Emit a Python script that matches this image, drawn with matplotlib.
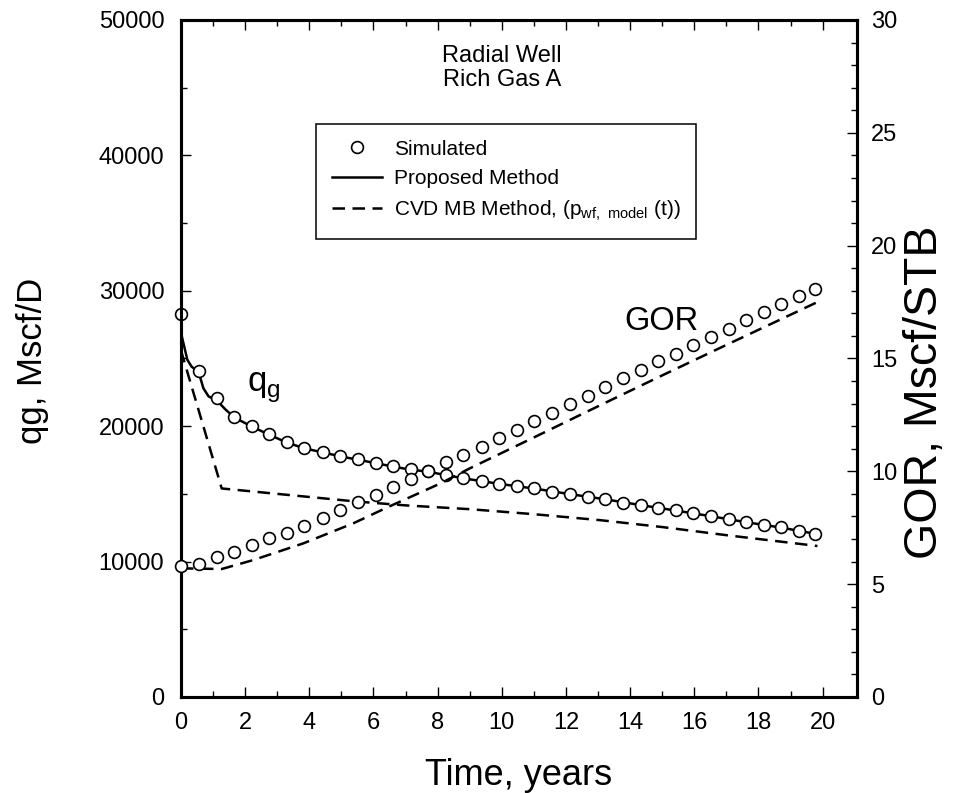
import numpy as np
import matplotlib.pyplot as plt

plt.rcParams['font.family'] = ['Liberation Sans', 'DejaVu Sans']

# Simulated (circles), time in years
t_sim = [0.0, 0.55, 1.12, 1.66, 2.2, 2.74, 3.29, 3.85, 4.43, 4.97, 5.52, 6.07, 6.62,
         7.16, 7.71, 8.26, 8.8, 9.37, 9.92, 10.47, 11.02, 11.57, 12.13, 12.68, 13.22,
         13.78, 14.33, 14.87, 15.42, 15.97, 16.52, 17.07, 17.61, 18.16, 18.71, 19.26, 19.77]
q_sim = [28310, 24100, 22060, 20680, 20010, 19400, 18830, 18390, 18090, 17800, 17550,
         17300, 17040, 16810, 16670, 16400, 16170, 15950, 15750, 15580, 15410, 15160,
         14990, 14790, 14600, 14350, 14180, 13960, 13790, 13570, 13370, 13170, 12920,
         12700, 12530, 12280, 12060]
gor_sim = [5.82, 5.91, 6.19, 6.41, 6.72, 7.03, 7.28, 7.59, 7.94, 8.29, 8.63, 8.95, 9.32,
           9.66, 10.0, 10.40, 10.73, 11.09, 11.46, 11.83, 12.21, 12.60, 12.98, 13.35,
           13.75, 14.13, 14.49, 14.87, 15.21, 15.60, 15.96, 16.32, 16.70, 17.07, 17.43,
           17.77, 18.08]

# Proposed method (solid), gas rate only
t_prop = [0.0, 0.1, 0.2, 0.33, 0.55, 0.7, 0.86, 1.12, 1.38, 1.66, 2.2, 2.74, 3.29, 3.85,
          4.43, 4.97, 5.52, 6.07, 6.62, 7.16, 7.71, 8.26, 8.8, 9.92, 11.02, 12.13, 13.22,
          14.33, 15.42, 16.52, 17.61, 18.71, 19.77]
q_prop = [26900, 25900, 24900, 24400, 24000, 22800, 22200, 21900, 21250, 20650, 19980,
          19380, 18800, 18360, 18060, 17770, 17520, 17270, 17010, 16790, 16640, 16380,
          16150, 15740, 15390, 14980, 14600, 14170, 13770, 13350, 12910, 12510, 12050]

# CVD MB method (dashed)
t_cvd_q = [0.0, 1.27, 3.0, 5.4, 7.0, 9.0, 11.0, 13.1, 15.0, 17.0, 19.84]
q_cvd = [25600, 15400, 15000, 14450, 14150, 13870, 13500, 13050, 12550, 11950, 11150]
t_cvd_gor = [0.0, 1.27, 2.26, 3.82, 5.38, 6.43, 8.1, 9.03, 11.0, 13.1, 15.0, 17.0, 19.84]
gor_cvd = [5.70, 5.67, 6.07, 6.81, 7.70, 8.40, 9.47, 10.15, 11.5, 12.95, 14.25, 15.6, 17.5]

fig = plt.figure(figsize=(9.61, 7.93), dpi=100)
ax = fig.add_axes([0.1883, 0.1211, 0.7034, 0.8537])
ax2 = ax.twinx()

mk = dict(marker='o', ms=8.5, mfc='white', mec='black', mew=1.2, ls='none', zorder=5)
lw = 1.8

ax.plot(t_prop, q_prop, color='black', lw=lw, zorder=3)
ax.plot(t_cvd_q, q_cvd, color='black', lw=lw, dashes=(5, 3), zorder=3)
ax.plot(t_sim, q_sim, clip_on=False, **mk)
ax2.plot(t_cvd_gor, gor_cvd, color='black', lw=lw, dashes=(5, 3), zorder=3)
ax2.plot(t_sim, gor_sim, clip_on=False, **mk)

ax.set_xlim(0, 21.07)
ax.set_ylim(0, 50000)
ax2.set_ylim(0, 30)
ax.set_xticks(np.arange(0, 21, 2))
ax.set_xticks(np.arange(1, 21, 2), minor=True)
ax.set_yticks(np.arange(0, 50001, 10000))
ax.set_yticks(np.arange(5000, 50000, 10000), minor=True)
ax2.set_yticks(np.arange(0, 31, 5))
ax2.set_yticks(np.arange(0, 31, 1), minor=True)

for a in (ax, ax2):
    for s in a.spines.values():
        s.set_linewidth(2.2)
ax.tick_params(which='both', direction='in', top=True, right=False, width=1, labelsize=17)
ax.tick_params(which='major', length=7)
ax.tick_params(which='minor', length=4)
ax.tick_params(axis='x', pad=11)
ax.tick_params(axis='y', pad=12)
ax2.tick_params(which='both', direction='in', width=1, labelsize=17, pad=10)
ax2.tick_params(which='major', length=7.5)
ax2.tick_params(which='minor', length=4)

ax.set_xlabel('Time, years', fontsize=26)
ax.xaxis.set_label_coords(0.5, -0.09)
ax.set_ylabel('qg, Mscf/D', fontsize=25)
ax.yaxis.set_label_coords(-0.195, 0.496)
ax2.set_ylabel('GOR, Mscf/STB', fontsize=33.5)
ax2.yaxis.set_label_coords(1.068, 0.45)

ax.text(0.4749, 0.963, 'Radial Well\nRich Gas A', transform=ax.transAxes,
        ha='center', va='top', fontsize=17, linespacing=1.1)
ax.text(0.6553, 0.542, 'GOR', transform=ax.transAxes, fontsize=23.5, va='baseline')
ax.text(0.0976, 0.451, r'q$_\mathregular{g}$', transform=ax.transAxes,
        fontsize=25, va='baseline')

h_sim, = ax.plot([], [], **mk)
h_prop, = ax.plot([], [], color='black', lw=lw)
h_cvd, = ax.plot([], [], color='black', lw=lw, dashes=(5, 3))
leg = ax.legend([h_sim, h_prop, h_cvd],
                ['Simulated', 'Proposed Method',
                 r'CVD MB Method, (p$_\mathregular{wf,\ model}$ (t))'],
                loc='upper left', bbox_to_anchor=(0.1997, 0.8464), fontsize=15,
                frameon=True, fancybox=False, framealpha=1, edgecolor='black',
                borderpad=0.75, labelspacing=0.5, handlelength=2.4,
                handletextpad=0.6, borderaxespad=0)
leg.get_frame().set_linewidth(1.1)
leg.set_zorder(10)

fig.savefig('out.png', dpi=100)
